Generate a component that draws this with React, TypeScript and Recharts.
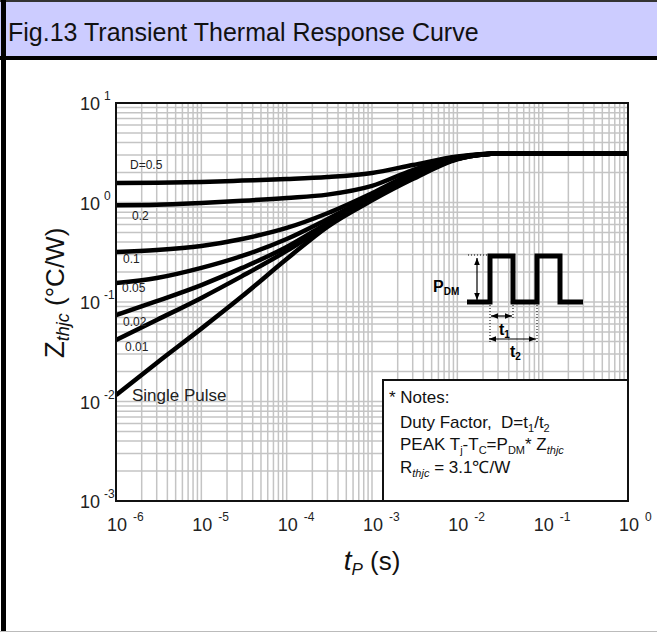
import { LineChart, Line, XAxis, YAxis, CartesianGrid } from 'recharts';

// pulse width tP (s)
const tp = [1e-6, 3e-6, 1e-5, 3e-5, 1e-4, 3e-4, 1e-3, 3e-3, 1e-2, 2e-2, 3e-2, 1e-1, 1];

// Zthjc (°C/W) per duty cycle
const d05 = [1.57, 1.58, 1.61, 1.66, 1.72, 1.8, 1.98, 2.38, 2.9, 3.07, 3.1, 3.1, 3.1];
const d02 = [0.94, 0.95, 0.99, 1.04, 1.11, 1.2, 1.47, 2.12, 2.85, 3.06, 3.1, 3.1, 3.1];
const d01 = [0.318, 0.333, 0.366, 0.43, 0.555, 0.78, 1.24, 1.98, 2.8, 3.05, 3.1, 3.1, 3.1];
const d005 = [0.155, 0.174, 0.22, 0.29, 0.43, 0.68, 1.16, 1.89, 2.78, 3.05, 3.1, 3.1, 3.1];
const d002 = [0.074, 0.102, 0.148, 0.22, 0.357, 0.62, 1.11, 1.8, 2.75, 3.04, 3.1, 3.1, 3.1];
const d001 = [0.0415, 0.066, 0.11, 0.182, 0.326, 0.594, 1.08, 1.76, 2.74, 3.04, 3.1, 3.1, 3.1];
const single = [0.0116, 0.0244, 0.054, 0.114, 0.27, 0.57, 1.05, 1.72, 2.72, 3.03, 3.1, 3.1, 3.1];

const xDecades = [1e-6, 1e-5, 1e-4, 1e-3, 1e-2, 1e-1, 1];
const yDecades = [1e-3, 1e-2, 1e-1, 1, 10];
const minorSteps = [1, 2, 3, 4, 5, 6, 7, 8, 9];

const series = [
  { key: 'd05', values: d05 },
  { key: 'd02', values: d02 },
  { key: 'd01', values: d01 },
  { key: 'd005', values: d005 },
  { key: 'd002', values: d002 },
  { key: 'd001', values: d001 },
  { key: 'single', values: single },
];

const data = tp.map((t, i) => {
  const row: Record<string, number> = { t };
  series.forEach((s) => {
    row[s.key] = s.values[i];
  });
  return row;
});

const withMinors = (decades: number[]) => {
  const out: number[] = [];
  decades.forEach((d, i) => {
    if (i === decades.length - 1) out.push(d);
    else minorSteps.forEach((m) => out.push(d * m));
  });
  return out;
};
const xTicks = withMinors(xDecades);
const yTicks = withMinors(yDecades);

const FONT = '"Liberation Sans", Arial, sans-serif';

const decadeExp = (v: number) => {
  const e = Math.round(Math.log10(v));
  return Math.abs(v - Math.pow(10, e)) / v < 1e-6 ? e : null;
};

const XTick = (props: any) => {
  const { x, payload } = props;
  const e = decadeExp(payload.value);
  if (e === null) return <g />;
  return (
    <g fontFamily={FONT} fill="#222">
      <text x={x + 1} y={531} fontSize={18} textAnchor="middle">10</text>
      <text x={x + 17} y={521} fontSize={12}>{e}</text>
    </g>
  );
};

const YTick = (props: any) => {
  const { y, payload } = props;
  const e = decadeExp(payload.value);
  if (e === null) return <g />;
  return (
    <g fontFamily={FONT} fill="#222">
      <text x={100} y={y + 7} fontSize={18} textAnchor="end">10</text>
      <text x={104} y={y - 3} fontSize={12}>{e}</text>
    </g>
  );
};

export default function App() {
  return (
    <div
      style={{
        position: 'absolute',
        left: 0,
        top: 0,
        width: 657,
        height: 632,
        background: '#fff',
        fontFamily: FONT,
        overflow: 'hidden',
      }}
    >
      {/* title bar */}
      <div
        style={{
          position: 'absolute',
          left: 0,
          top: 0,
          width: 657,
          height: 60,
          background: '#ccccff',
          borderTop: '2px solid #333',
          borderBottom: '4px solid #000',
          boxSizing: 'border-box',
        }}
      />
      <div style={{ position: 'absolute', left: 8, top: 18, fontSize: 25, color: '#111', whiteSpace: 'nowrap' }}>
        Fig.13 Transient Thermal Response Curve
      </div>
      <div style={{ position: 'absolute', left: 1, top: 0, width: 5, height: 632, background: '#000' }} />
      <div style={{ position: 'absolute', left: 0, top: 631, width: 657, height: 1, background: '#bbb' }} />

      <div style={{ position: 'absolute', left: 0, top: 0 }}>
        <LineChart width={657} height={632} data={data} margin={{ top: 103, right: 29, bottom: 91, left: 56 }}>
          <CartesianGrid stroke="#c4c4c4" strokeWidth={1.5} />
          <XAxis
            dataKey="t"
            type="number"
            scale="log"
            domain={[1e-6, 1]}
            ticks={xTicks}
            interval={0}
            tick={<XTick />}
            tickLine={false}
            axisLine={false}
            height={40}
            allowDataOverflow
          />
          <YAxis
            type="number"
            scale="log"
            domain={[1e-3, 10]}
            ticks={yTicks}
            interval={0}
            tick={<YTick />}
            tickLine={false}
            axisLine={false}
            width={60}
            allowDataOverflow
          />
          {series.map((s) => (
            <Line
              key={s.key}
              type="monotone"
              dataKey={s.key}
              stroke="#000"
              strokeWidth={4.5}
              dot={false}
              isAnimationActive={false}
            />
          ))}
        </LineChart>
      </div>

      {/* plot frame */}
      <div
        style={{
          position: 'absolute',
          left: 115,
          top: 102,
          width: 514,
          height: 400,
          border: '2px solid #111',
          boxSizing: 'border-box',
        }}
      />

      <svg width={657} height={632} style={{ position: 'absolute', left: 0, top: 0, pointerEvents: 'none' }} fontFamily={FONT}>
        <defs>
          <marker id="ah" viewBox="0 0 10 10" refX="10" refY="5" markerWidth="6" markerHeight="6" orient="auto-start-reverse">
            <path d="M0,1 L10,5 L0,9 z" fill="#000" />
          </marker>
        </defs>

        {/* curve labels */}
        <g fontSize={12} fill="#222">
          <text x={130} y={169}>D=0.5</text>
          <text x={132} y={220}>0.2</text>
          <text x={123} y={263}>0.1</text>
          <text x={122} y={292}>0.05</text>
          <text x={123} y={326}>0.02</text>
          <text x={125} y={351}>0.01</text>
        </g>
        <text x={132} y={401} fontSize={17} fill="#222">Single Pulse</text>

        {/* pulse inset */}
        <polyline
          points="467,302 490,302 490,256 513,256 513,302 537,302 537,256 560,256 560,302 583,302"
          fill="none"
          stroke="#000"
          strokeWidth={5}
        />
        <line x1={468} y1={255} x2={490} y2={255} stroke="#000" strokeWidth={1} strokeDasharray="1 2" />
        <line x1={477} y1={258} x2={477} y2={300} stroke="#000" strokeWidth={1.2} markerStart="url(#ah)" markerEnd="url(#ah)" />
        <line x1={490} y1={305} x2={490} y2={343} stroke="#000" strokeWidth={1} strokeDasharray="1 2" />
        <line x1={513} y1={305} x2={513} y2={320} stroke="#000" strokeWidth={1} strokeDasharray="1 2" />
        <line x1={537} y1={305} x2={537} y2={343} stroke="#000" strokeWidth={1} strokeDasharray="1 2" />
        <line x1={491} y1={316} x2={512} y2={316} stroke="#000" strokeWidth={1.2} markerStart="url(#ah)" markerEnd="url(#ah)" />
        <line x1={489} y1={339} x2={536} y2={339} stroke="#000" strokeWidth={1.2} markerStart="url(#ah)" markerEnd="url(#ah)" />
        <text x={433} y={292} fontSize={16} fontWeight="bold">
          P<tspan fontSize={10} dy={3}>DM</tspan>
        </text>
        <text x={499} y={335} fontSize={16} fontWeight="bold">
          t<tspan fontSize={10} dy={3}>1</tspan>
        </text>
        <text x={510} y={357} fontSize={16} fontWeight="bold">
          t<tspan fontSize={10} dy={3}>2</tspan>
        </text>

        {/* notes */}
        <rect x={383} y={380} width={245} height={121} fill="#fff" stroke="#111" strokeWidth={2} />
        <g fontSize={17} fill="#111">
          <text x={389} y={403}>* Notes:</text>
          <text x={400} y={428}>
            Duty Factor,{'\u00a0\u00a0'}D=t<tspan fontSize={11} dy={4}>1</tspan>
            <tspan dy={-4}>/t</tspan>
            <tspan fontSize={11} dy={4}>2</tspan>
          </text>
          <text x={400} y={450}>
            PEAK T<tspan fontSize={11} dy={4}>j</tspan>
            <tspan dy={-4}>-T</tspan>
            <tspan fontSize={11} dy={4}>C</tspan>
            <tspan dy={-4}>=P</tspan>
            <tspan fontSize={11} dy={4}>DM</tspan>
            <tspan dy={-4}>* Z</tspan>
            <tspan fontSize={11} dy={4} fontStyle="italic">thjc</tspan>
          </text>
          <text x={400} y={473}>
            R<tspan fontSize={11} dy={4} fontStyle="italic">thjc</tspan>
            <tspan dy={-4}>{' = 3.1\u2103/W'}</tspan>
          </text>
        </g>

        {/* axis titles */}
        <text transform="translate(64,293) rotate(-90)" textAnchor="middle" fill="#111">
          <tspan fontSize={28}>Z</tspan>
          <tspan fontSize={18} fontStyle="italic" dy={5}>thjc</tspan>
          <tspan fontSize={26} dy={-5}>{' (\u00b0C/W)'}</tspan>
        </text>
        <text x={372} y={570} textAnchor="middle" fill="#111">
          <tspan fontSize={28} fontStyle="italic">t</tspan>
          <tspan fontSize={17} fontStyle="italic" dy={5}>P</tspan>
          <tspan fontSize={26} dy={-5}>{' (s)'}</tspan>
        </text>
      </svg>
    </div>
  );
}
